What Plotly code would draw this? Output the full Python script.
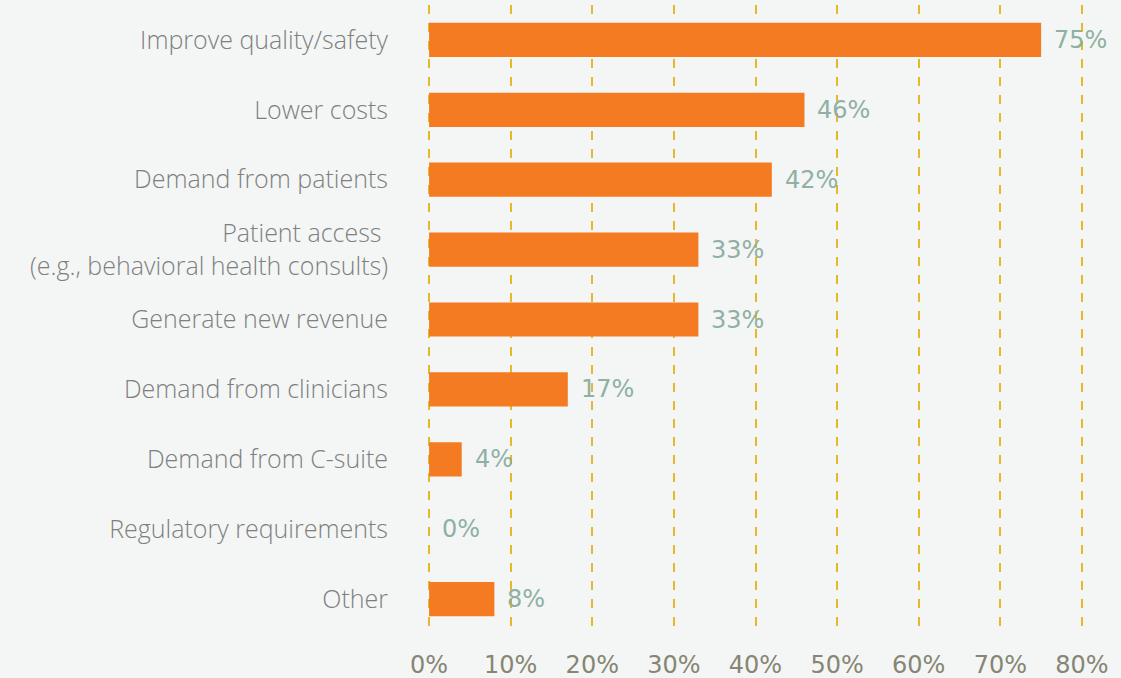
import plotly.graph_objects as go

categories = [
    "Improve quality/safety",
    "Lower costs",
    "Demand from patients",
    "Patient access <br>(e.g., behavioral health consults)",
    "Generate new revenue",
    "Demand from clinicians",
    "Demand from C-suite",
    "Regulatory requirements",
    "Other",
]
values = [75, 46, 42, 33, 33, 17, 4, 0, 8]
tick_vals = [0, 10, 20, 30, 40, 50, 60, 70, 80]
tick_text = ["0%", "10%", "20%", "30%", "40%", "50%", "60%", "70%", "80%"]

bg = "#f3f6f5"
fig = go.Figure()
fig.add_trace(go.Bar(
    y=categories, x=values, orientation="h",
    marker=dict(color="#f47b22", line=dict(width=0)),
    width=0.49,
))
for c, v in zip(categories, values):
    fig.add_annotation(
        x=v, y=c, text=f"{v}%", showarrow=False, xanchor="left", xshift=11,
        font=dict(family="DejaVu Sans", size=24, color="#8fb0a3"),
    )

fig.update_layout(
    width=1121, height=678,
    margin=dict(l=425, r=35, t=5, b=44),
    paper_bgcolor=bg, plot_bgcolor=bg,
    showlegend=False,
    xaxis=dict(
        range=[-0.5, 80.5], tickvals=tick_vals, ticktext=tick_text,
        showgrid=True, gridcolor="#e6b82e", griddash="dash", gridwidth=1.5,
        zeroline=False, showline=False, automargin=False,
        ticks="outside", ticklen=9, tickcolor="rgba(0,0,0,0)",
        tickfont=dict(family="DejaVu Sans", size=24, color="#878573"),
    ),
    yaxis=dict(
        autorange="reversed", showgrid=False, zeroline=False, showline=False,
        automargin=False,
        ticks="outside", ticklen=31, tickcolor="rgba(0,0,0,0)",
        tickfont=dict(family="Open Sans", size=25, color="#7f7f7f", weight=300),
    ),
    bargap=0.5,
)
fig.write_html(
    "out.html",
    config={"displayModeBar": False},
    post_script="document.body.style.margin='0';document.body.style.background='%s';" % bg,
)
